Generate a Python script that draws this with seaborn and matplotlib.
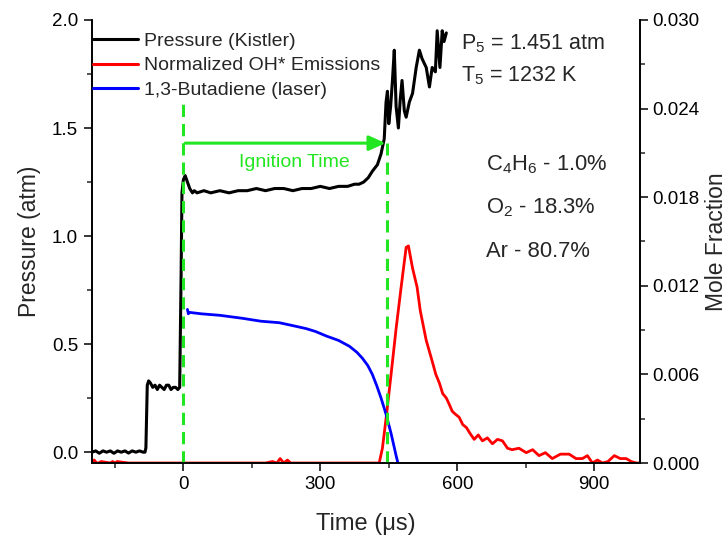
import numpy as np
import pandas as pd
import matplotlib
matplotlib.use("Agg")
import matplotlib.pyplot as plt
import seaborn as sns
from matplotlib.lines import Line2D
from matplotlib.ticker import MultipleLocator, FormatStrFormatter

# ---------------- data ----------------
t_pressure = [-200, -192, -184, -176, -168, -160, -152, -144, -136, -128, -120, -112, -104, -96, -88, -84,
              -82, -79, -76, -72, -67, -62, -57, -52, -47, -42, -37, -32, -27, -22, -17, -12, -8,
              -5, -3, 0, 4, 9, 14, 20, 24, 30, 45, 60, 80, 100, 120, 140, 160, 180, 200, 220, 240, 260,
              280, 300, 320, 340, 360, 375, 385, 395, 405, 414, 425, 433, 440, 444, 447, 450, 454, 458,
              462, 466, 471, 475, 479, 484, 488, 495, 502, 510, 517, 523, 532, 539, 545, 552, 556, 562,
              567, 571, 576]
pressure = [0.00, 0.006, -0.005, 0.006, 0.00, 0.006, -0.005, 0.006, 0.00, 0.006, -0.004, 0.006, 0.00, 0.006, 0.00, 0.00,
            0.02, 0.31, 0.33, 0.32, 0.30, 0.31, 0.29, 0.31, 0.30, 0.29, 0.31, 0.31, 0.29, 0.30, 0.30, 0.29, 0.30,
            0.80, 1.20, 1.26, 1.28, 1.25, 1.22, 1.20, 1.21, 1.20, 1.21, 1.20, 1.21, 1.20, 1.21, 1.21, 1.22, 1.21,
            1.22, 1.22, 1.21, 1.22, 1.22, 1.23, 1.22, 1.23, 1.23, 1.24, 1.24, 1.25, 1.27, 1.30, 1.33, 1.38,
            1.45, 1.62, 1.67, 1.52, 1.60, 1.72, 1.86, 1.60, 1.50, 1.63, 1.72, 1.58, 1.55, 1.62, 1.66, 1.78,
            1.86, 1.82, 1.78, 1.69, 1.78, 1.76, 1.95, 1.78, 1.95, 1.90, 1.94]

t_butadiene = [9, 11, 13, 40, 80, 129, 170, 210, 240, 269, 290, 313, 340, 364, 380, 392, 404, 414,
               424, 433, 444, 455, 466, 470]
butadiene = [0.0104, 0.0101, 0.0102, 0.0101, 0.0100, 0.0098, 0.0096, 0.0095, 0.0093, 0.0091, 0.0089,
             0.0086, 0.0083, 0.0079, 0.0075, 0.0071, 0.0066, 0.0060, 0.0052, 0.0044, 0.0033, 0.0020,
             0.0005, 0.0]

t_oh = [-200, -195, -190, -186, -180, -160, -155, -150, -145, -120, 180, 195, 205, 212, 220, 228, 235,
        250, 420, 429, 436, 444, 455, 466, 477, 488, 493, 502, 512, 519, 532, 545, 553, 561, 568, 576,
        582, 589, 596, 604, 612, 620, 628, 637, 646, 655, 666, 677, 688, 699, 710, 720, 735, 751, 765,
        779, 793, 808, 826, 845, 860, 874, 885, 896, 907, 918, 930, 944, 957, 970, 981, 992, 1000]
oh = [0.0, 0.0002, 0.0, 0.0, 0.0001, 0.0, 0.0001, 0.0, 0.0001, 0.0, 0.0, 0.0001, 0.0, 0.0003, 0.0,
      0.0002, 0.0, 0.0, 0.0, 0.0, 0.0010, 0.0030, 0.0060, 0.0091, 0.0119, 0.0146, 0.0147, 0.0132,
      0.0119, 0.0103, 0.0083, 0.0069, 0.0060, 0.0054, 0.0047, 0.0044, 0.0040, 0.0035, 0.0033, 0.0031,
      0.0026, 0.0024, 0.0020, 0.0016, 0.0019, 0.0015, 0.0017, 0.0013, 0.0016, 0.0015, 0.0010, 0.0009,
      0.0010, 0.0007, 0.0009, 0.0005, 0.0007, 0.0003, 0.0006, 0.0006, 0.0003, 0.0003, 0.0005, 0.0,
      0.0002, 0.0, 0.0001, 0.0005, 0.0003, 0.0003, 0.0001, 0.0, 0.0]

ignition_start = 0
ignition_end = 447
arrow_level = 1.43
start_line_top = 1.62

legend_labels = ["Pressure (Kistler)", "Normalized OH* Emissions", "1,3-Butadiene (laser)"]

# ---------------- style ----------------
sns.set_style("ticks")
plt.rcParams["font.family"] = ["Liberation Sans", "DejaVu Sans"]
plt.rcParams["mathtext.fontset"] = "custom"
plt.rcParams["mathtext.rm"] = "Liberation Sans"
plt.rcParams["mathtext.it"] = "Liberation Sans:italic"
plt.rcParams["mathtext.default"] = "regular"

GREEN = "#22e622"
fig = plt.figure(figsize=(7.28, 5.39), dpi=100)
ax = fig.add_axes([0.1264, 0.141, 0.879 - 0.1264, 0.963 - 0.141])
ax2 = ax.twinx()

df_p = pd.DataFrame({"t": t_pressure, "v": pressure})
df_b = pd.DataFrame({"t": t_butadiene, "v": butadiene})
df_o = pd.DataFrame({"t": t_oh, "v": oh})

sns.lineplot(data=df_o, x="t", y="v", ax=ax2, color="#ff0000", lw=2, sort=False, estimator=None)
sns.lineplot(data=df_b, x="t", y="v", ax=ax2, color="#0000ff", lw=2, sort=False, estimator=None)
sns.lineplot(data=df_p, x="t", y="v", ax=ax, color="black", lw=2.2, sort=False, estimator=None)
ax.set_zorder(ax2.get_zorder() + 1)
ax.patch.set_visible(False)

# ignition time markers
ax.plot([ignition_start, ignition_start], [-0.05, start_line_top], color=GREEN, lw=2.2, dashes=(4, 2.3))
ax.plot([ignition_end, ignition_end], [-0.05, arrow_level], color=GREEN, lw=2.2, dashes=(4, 2.3))
ax.annotate("", xy=(ignition_end - 4, arrow_level), xytext=(ignition_start + 4, arrow_level),
            arrowprops=dict(arrowstyle="-|>,head_length=1.0,head_width=0.45", color=GREEN, lw=2.2,
                            shrinkA=0, shrinkB=0))
ax.text((ignition_start + ignition_end) / 2 + 20, 1.34, "Ignition Time", color=GREEN,
        fontsize=14, ha="center", va="center")

ax.text(609, 1.89, "P$_5$ = 1.451 atm", fontsize=15.5, ha="left", va="center")
ax.text(609, 1.74, "T$_5$ = 1232 K", fontsize=15.5, ha="left", va="center")
ax.text(663, 1.33, "C$_4$H$_6$ - 1.0%", fontsize=15.8, ha="left", va="center")
ax.text(663, 1.13, "O$_2$ - 18.3%", fontsize=15.8, ha="left", va="center")
ax.text(663, 0.93, "Ar - 80.7%", fontsize=15.8, ha="left", va="center")

# axes
ax.set_xlim(-200, 1000)
ax.set_ylim(-0.05, 2.0)
ax2.set_ylim(0.0, 0.030)
ax.xaxis.set_major_locator(MultipleLocator(300))
ax.xaxis.set_minor_locator(MultipleLocator(150))
ax.yaxis.set_major_locator(MultipleLocator(0.5))
ax.yaxis.set_minor_locator(MultipleLocator(0.25))
ax.yaxis.set_major_formatter(FormatStrFormatter("%.1f"))
ax2.yaxis.set_major_locator(MultipleLocator(0.006))
ax2.yaxis.set_minor_locator(MultipleLocator(0.003))
ax2.yaxis.set_major_formatter(FormatStrFormatter("%.3f"))

for a in (ax, ax2):
    a.spines["top"].set_visible(False)
    for s in a.spines.values():
        s.set_linewidth(1.2)
        s.set_color("black")
    a.tick_params(which="major", direction="out", length=6, width=1.1, labelsize=13.5, colors="black")
    a.tick_params(which="minor", direction="out", length=3.5, width=1.1)
ax.tick_params(axis="x", pad=3)
ax.tick_params(axis="y", pad=4)
ax2.tick_params(axis="y", pad=3)

ax.set_xlabel("Time (μs)", fontsize=17, labelpad=15)
ax.set_ylabel("Pressure (atm)", fontsize=16.5, labelpad=8)
ax2.set_ylabel("Mole Fraction", fontsize=16.5, labelpad=4)

handles = [Line2D([], [], color="black", lw=2.2),
           Line2D([], [], color="#ff0000", lw=2.2),
           Line2D([], [], color="#0000ff", lw=2.2)]
leg = ax.legend(handles, legend_labels, loc="upper left", bbox_to_anchor=(-0.008, 0.985), frameon=False,
                fontsize=14, handlelength=2.3, handletextpad=0.3, labelspacing=0.35,
                borderaxespad=0.3, borderpad=0.0)

fig.savefig("out.png", dpi=100)
